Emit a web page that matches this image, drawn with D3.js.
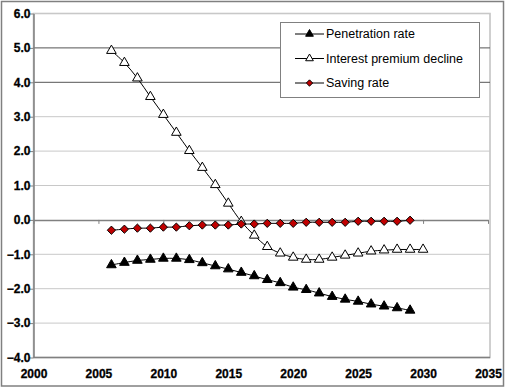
<!DOCTYPE html>
<html><head><meta charset="utf-8">
<script src="https://cdn.jsdelivr.net/npm/d3@7"></script>
<style>html,body{margin:0;padding:0;background:#fff}svg{display:block}</style>
</head><body>
<script>
const penYears = d3.range(2006, 2030);
const penetration = [-1.31,-1.24,-1.18,-1.15,-1.12,-1.12,-1.16,-1.25,-1.34,-1.43,-1.53,-1.63,-1.74,-1.83,-1.96,-2.03,-2.13,-2.23,-2.31,-2.37,-2.45,-2.51,-2.56,-2.63];
const intYears = d3.range(2006, 2031);
const interest = [4.92,4.57,4.12,3.58,3.06,2.54,2.01,1.52,1.02,0.48,-0.05,-0.45,-0.78,-0.97,-1.09,-1.15,-1.15,-1.09,-1.03,-0.97,-0.91,-0.88,-0.86,-0.86,-0.86];
const savYears = d3.range(2006, 2030);
const saving = [-0.30,-0.27,-0.24,-0.24,-0.21,-0.21,-0.17,-0.15,-0.15,-0.15,-0.12,-0.12,-0.10,-0.10,-0.10,-0.07,-0.07,-0.07,-0.07,-0.04,-0.04,-0.04,-0.04,-0.01];
const xTicks = [2000,2005,2010,2015,2020,2025,2030,2035];
const yTicks = [-4,-3,-2,-1,0,1,2,3,4,5,6];
const seriesNames = ["Penetration rate","Interest premium decline","Saving rate"];

const W = 505, H = 387;
const FONT = "Arial, 'Liberation Sans', Arimo, sans-serif";
const svg = d3.select("body").append("svg").attr("width", W).attr("height", H);
svg.append("rect").attr("x",1.5).attr("y",1.5).attr("width",W-3).attr("height",H-2.5)
  .attr("fill","#fff").attr("stroke","#808080").attr("stroke-width",1.5);

const x = d3.scaleLinear().domain([2000,2035]).range([33.5,488]);
const y = d3.scaleLinear().domain([-4,6]).range([357.5,13.5]);

svg.append("rect").attr("x",x(2000)).attr("y",y(6)).attr("width",x(2035)-x(2000)+2).attr("height",y(-4)-y(6))
  .attr("fill","none").attr("stroke","#c0c0c0").attr("stroke-width",1.5);

svg.append("g").selectAll("line").data(yTicks.filter(v=>v!==0 && v!==-4)).join("line")
  .attr("x1",x(2000)).attr("x2",x(2035)+2).attr("y1",d=>y(d)).attr("y2",d=>y(d))
  .attr("stroke",d=> (d===5||d===4) ? "#555" : "#c8c8c8").attr("stroke-width",1);

function styleText(sel){
  sel.attr("font-family",FONT).attr("font-size",12).attr("font-weight","bold")
     .style("font-weight","bold").attr("fill","#000").attr("stroke","#000").attr("stroke-width",0.3);
}

const yAxis = d3.axisLeft(y).tickValues(yTicks).tickFormat(d3.format(".1f")).tickSize(4).tickSizeOuter(0);
const gy = svg.append("g").attr("transform",`translate(${x(2000)},0)`).call(yAxis);
gy.attr("font-family",FONT).attr("font-weight","bold");
gy.select(".domain").attr("stroke","#808080").attr("stroke-width",1.5);
gy.selectAll(".tick line").attr("stroke","#808080");
gy.selectAll(".tick text").attr("x",-3).call(styleText);

svg.append("line").attr("x1",x(2000)).attr("x2",x(2035)+2).attr("y1",y(-4)).attr("y2",y(-4))
  .attr("stroke","#808080").attr("stroke-width",1.5);

const xAxis = d3.axisBottom(x).tickValues(xTicks).tickFormat(d3.format("d")).tickSize(4).tickSizeOuter(0);
const gx = svg.append("g").attr("transform",`translate(0,${y(0)})`).call(xAxis);
gx.attr("font-family",FONT).attr("font-weight","bold");
gx.select(".domain").attr("stroke","#808080").attr("stroke-width",1.5);
gx.selectAll(".tick line").attr("stroke","#808080");
gx.selectAll(".tick text").attr("y", y(-4)-y(0)+12).attr("dy","0.71em").call(styleText);

const curve = d3.curveCatmullRom.alpha(0.5);
const diamond = { draw(ctx, size){ const r = Math.sqrt(size/2); ctx.moveTo(0,-r); ctx.lineTo(r,0); ctx.lineTo(0,r); ctx.lineTo(-r,0); ctx.closePath(); } };
function drawSeries(years, vals, shape, fill, size){
  const data = years.map((yr,i)=>[yr,vals[i]]);
  svg.append("path").datum(data).attr("fill","none").attr("stroke","#000").attr("stroke-width",1)
    .attr("d", d3.line().x(d=>x(d[0])).y(d=>y(d[1])).curve(curve));
  svg.append("g").selectAll("path").data(data).join("path")
    .attr("transform",d=>`translate(${x(d[0])},${y(d[1])})`)
    .attr("d", d3.symbol().type(shape).size(size))
    .attr("fill",fill).attr("stroke","#000").attr("stroke-width",1);
}
drawSeries(intYears, interest, d3.symbolTriangle, "#fff", 40);
drawSeries(savYears, saving, diamond, "#c00000", 34);
drawSeries(penYears, penetration, d3.symbolTriangle, "#000", 40);

const lg = svg.append("g");
lg.append("rect").attr("x",280.5).attr("y",22.5).attr("width",199).attr("height",75)
  .attr("fill","#fff").attr("stroke","#808080").attr("stroke-width",1);
const legendItems = [
  {name:seriesNames[0], shape:d3.symbolTriangle, fill:"#000", size:26},
  {name:seriesNames[1], shape:d3.symbolTriangle, fill:"#fff", size:26},
  {name:seriesNames[2], shape:diamond, fill:"#c00000", size:20}
];
legendItems.forEach((it,i)=>{
  const cy = 34 + i*24.5;
  lg.append("line").attr("x1",295).attr("x2",324).attr("y1",cy).attr("y2",cy).attr("stroke","#000").attr("stroke-width",1);
  lg.append("path").attr("transform",`translate(309.5,${cy})`).attr("d",d3.symbol().type(it.shape).size(it.size))
    .attr("fill",it.fill).attr("stroke","#000").attr("stroke-width",1);
  lg.append("text").attr("x",326).attr("y",cy).attr("dy","0.35em")
    .attr("font-family",FONT).attr("font-size",12.5).attr("fill","#000").text(it.name);
});
</script>
</body></html>
